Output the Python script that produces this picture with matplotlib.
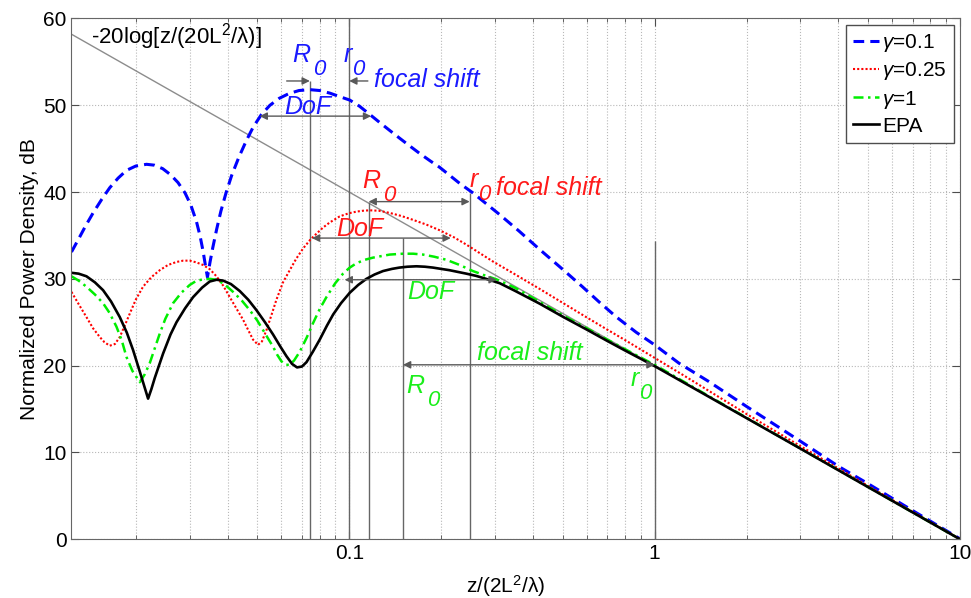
import matplotlib
matplotlib.use('Agg')
import matplotlib.pyplot as plt
from matplotlib.ticker import FixedLocator, LogLocator, NullFormatter, FuncFormatter

plt.rcParams['font.family'] = ['Liberation Sans', 'DejaVu Sans']
plt.rcParams['mathtext.fontset'] = 'custom'
plt.rcParams['mathtext.rm'] = 'Liberation Sans'
plt.rcParams['mathtext.it'] = 'Liberation Sans:italic'

# curves (x = z/(2L^2/lambda), y in dB)
blue_x = [0.01232, 0.0130, 0.0137, 0.0145, 0.0155, 0.01644, 0.0175, 0.01865, 0.0200, 0.02169,
          0.0230, 0.0245, 0.0260, 0.0275, 0.0290, 0.0303, 0.03161, 0.0325, 0.03322, 0.0338,
          0.03434, 0.0350, 0.03575, 0.0368, 0.0380, 0.0395, 0.0412, 0.0435, 0.0460, 0.0485,
          0.0515, 0.0550, 0.0590, 0.0635, 0.0685, 0.0743, 0.0800, 0.0864, 0.0930, 0.1004,
          0.108, 0.1167, 0.126, 0.1357, 0.1463, 0.158, 0.1701, 0.184, 0.1978, 0.212,
          0.230, 0.2542, 0.280, 0.311, 0.36, 0.42, 0.5, 0.58, 0.66, 0.75,
          0.87, 1.0, 1.2, 1.5, 2.0, 2.5, 3.0, 4.0, 5.0, 7.0, 10.0]
blue_y = [33.1, 34.6, 36.1, 37.6, 39.2, 40.5, 41.6, 42.5, 43.0, 43.2,
          43.1, 42.7, 42.0, 41.1, 39.9, 38.5, 36.6, 34.9, 33.2, 31.6,
          30.2, 31.9, 33.6, 35.7, 37.8, 39.9, 41.9, 44.0, 45.9, 47.5,
          48.9, 50.0, 50.8, 51.35, 51.7, 51.8, 51.7, 51.4, 51.0, 50.6,
          49.9, 48.95, 48.0, 47.1, 46.2, 45.3, 44.45, 43.6, 42.85, 42.0,
          41.0, 39.9, 38.7, 37.4, 35.5, 33.4, 31.1, 29.1, 27.3, 25.6,
          23.85, 22.4, 20.3, 18.2, 15.3, 13.1, 11.3, 8.4, 6.4, 3.3, 0.05]

red_x = [0.01232, 0.0130, 0.01379, 0.0145, 0.01525, 0.0158, 0.01644, 0.0171, 0.01773, 0.0184,
         0.01912, 0.0200, 0.02113, 0.0225, 0.02397, 0.0255, 0.02719, 0.0286, 0.03005, 0.0316,
         0.03322, 0.0350, 0.03675, 0.0387, 0.04063, 0.0427, 0.04492, 0.0467, 0.04843, 0.05029,
         0.0518, 0.05358, 0.0556, 0.05776, 0.0607, 0.06386, 0.0670, 0.07061, 0.0745, 0.0781,
         0.0820, 0.08635, 0.09309, 0.0995, 0.1056, 0.111, 0.1167, 0.125, 0.1357, 0.148,
         0.1618, 0.179, 0.1978, 0.220, 0.2418, 0.268, 0.2956, 0.35, 0.42, 0.5,
         0.6, 0.7, 0.8, 1.0, 1.25, 1.5, 2.0, 3.0, 5.0, 7.0, 10.0]
red_y = [28.5, 27.1, 25.6, 24.3, 23.3, 22.7, 22.3, 22.5, 23.3, 24.6,
         26.0, 27.6, 29.1, 30.2, 31.0, 31.6, 31.95, 32.1, 32.1, 31.9,
         31.6, 31.1, 30.3, 29.2, 27.9, 26.6, 25.3, 24.1, 23.0, 22.4,
         22.8, 24.1, 25.8, 27.6, 29.6, 31.0, 32.3, 33.5, 34.5, 35.2,
         35.9, 36.5, 37.2, 37.55, 37.75, 37.85, 37.9, 37.85, 37.6, 37.25,
         36.8, 36.25, 35.6, 34.8, 33.95, 32.95, 32.0, 30.5, 28.85, 27.24,
         25.55, 24.15, 22.95, 20.9, 18.84, 17.13, 14.43, 10.74, 6.15, 3.17, 0.02]

green_x = [0.01232, 0.0130, 0.01379, 0.0147, 0.01563, 0.0164, 0.01729, 0.0180, 0.01865, 0.0195,
           0.02062, 0.0214, 0.02223, 0.02397, 0.0250, 0.0265, 0.0282, 0.03005, 0.0315, 0.03322,
           0.0350, 0.03675, 0.0390, 0.04166, 0.0445, 0.04724, 0.0500, 0.05222, 0.0543, 0.0563,
           0.0580, 0.05999, 0.0620, 0.06386, 0.0660, 0.06886, 0.0725, 0.07613, 0.0800, 0.08421,
           0.0900, 0.09543, 0.1004, 0.1056, 0.1125, 0.1197, 0.1357, 0.15, 0.162, 0.1744,
           0.190, 0.208, 0.230, 0.2542, 0.278, 0.3033, 0.35, 0.42, 0.5, 0.6,
           0.7, 0.8, 0.9, 1.0, 1.5, 2.0, 3.0, 5.0, 10.0]
green_y = [30.3, 29.8, 29.1, 28.2, 27.2, 26.1, 24.5, 22.9, 21.0, 19.4,
           18.1, 19.0, 20.3, 23.7, 25.4, 27.2, 28.4, 29.3, 29.75, 29.95,
           30.0, 29.9, 29.4, 28.5, 27.5, 26.4, 25.2, 24.1, 23.1, 22.2,
           21.3, 20.5, 20.1, 20.1, 20.6, 21.6, 23.2, 24.9, 26.5, 27.9,
           29.5, 30.6, 31.3, 31.8, 32.2, 32.45, 32.8, 32.9, 32.9, 32.8,
           32.55, 32.2, 31.6, 30.9, 30.4, 29.95, 28.95, 27.35, 25.8, 24.3,
           23.0, 21.9, 20.95, 20.1, 16.52, 14.0, 10.47, 6.03, 0.0]

epa_x = [0.01232, 0.0130, 0.01379, 0.0147, 0.01563, 0.0166, 0.01773, 0.0187, 0.0196, 0.0205,
         0.02113, 0.02195, 0.0225, 0.02309, 0.02458, 0.0260, 0.02719, 0.0290, 0.03082, 0.0330,
         0.03494, 0.0368, 0.03863, 0.0410, 0.04381, 0.0467, 0.04968, 0.0530, 0.0563, 0.0595,
         0.06228, 0.0650, 0.06747, 0.0700, 0.07244, 0.0760, 0.08006, 0.0845, 0.0886, 0.0940,
         0.1004, 0.107, 0.1138, 0.121, 0.129, 0.138, 0.146, 0.155, 0.166, 0.177,
         0.188, 0.200, 0.213, 0.227, 0.242, 0.260, 0.281, 0.311, 0.35, 0.42,
         0.5, 0.6, 0.7, 0.8, 0.9, 1.0, 1.5, 2.0, 3.0, 5.0, 10.0]
epa_y = [30.7, 30.6, 30.3, 29.6, 28.7, 27.4, 25.6, 23.8, 21.8, 19.6,
         18.1, 16.2, 17.3, 18.6, 21.4, 23.6, 25.0, 26.6, 27.9, 29.0,
         29.7, 29.9, 29.8, 29.4, 28.6, 27.6, 26.4, 25.0, 23.6, 22.2,
         21.1, 20.2, 19.8, 19.9, 20.4, 21.6, 23.0, 24.6, 25.9, 27.2,
         28.4, 29.3, 30.0, 30.5, 30.9, 31.15, 31.3, 31.4, 31.45, 31.4,
         31.3, 31.15, 31.0, 30.8, 30.6, 30.35, 30.0, 29.5, 28.6, 27.15,
         25.65, 24.15, 22.85, 21.75, 20.8, 19.95, 16.45, 13.96, 10.45, 6.01, 0.0]

# reference line -20log[z/(20L^2/lambda)]
ref_x = [0.0123, 10.0]
ref_y = [58.2, 0.0]

# R0 / r0 marker lines: (x, top)
marker_x = [0.0743, 0.1, 0.1157, 0.248, 0.150, 1.0]
marker_top = [52.8, 60.0, 38.9, 39.9, 34.7, 34.4]

# arrows: (from x, to x, y, style)
arrows = [
    (0.0624, 0.0743, 52.8, '-|>'),
    (0.1151, 0.1, 52.8, '-|>'),
    (0.0509, 0.118, 48.75, '<|-|>'),
    (0.1157, 0.248, 38.9, '<|-|>'),
    (0.0755, 0.215, 34.7, '<|-|>'),
    (0.0966, 0.304, 29.9, '<|-|>'),
    (0.150, 1.0, 20.1, '<|-|>'),
]

# R0 / r0 labels: (left x, baseline y, letter, colour)
blue_c, red_c, green_c = '#1a1aff', '#ff1a1a', '#1aee1a'
sub_labels = [
    (0.0653, 55.0, 'R', blue_c), (0.0959, 55.0, 'r', blue_c),
    (0.1107, 40.5, 'R', red_c), (0.248, 40.6, 'r', red_c),
    (0.1542, 16.9, 'R', green_c), (0.834, 17.7, 'r', green_c),
]

# other annotation texts: (x, y, text, colour, ha, va)
notes = [
    (0.1203, 52.9, 'focal shift', blue_c, 'left', 'center'),
    (0.0731, 48.95, 'DoF', blue_c, 'center', 'baseline'),
    (0.303, 40.5, 'focal shift', red_c, 'left', 'center'),
    (0.1082, 34.9, 'DoF', red_c, 'center', 'baseline'),
    (0.185, 28.5, 'DoF', green_c, 'center', 'center'),
    (0.2614, 21.5, 'focal shift', green_c, 'left', 'center'),
]

fig = plt.figure(figsize=(9.71, 5.98), dpi=100)
ax = fig.add_axes([0.0734, 0.0982, 0.9153, 0.8709])

ax.plot(ref_x, ref_y, color='0.55', lw=1.0)
ax.vlines(marker_x, 0, marker_top, color='0.4', lw=1.0)
for x1, x2, y, st in arrows:
    ax.annotate('', xy=(x2, y), xytext=(x1, y),
                arrowprops=dict(arrowstyle=st, color='0.35', lw=1.0,
                                mutation_scale=11, shrinkA=0, shrinkB=0))

ax.plot(blue_x, blue_y, color='#0000ff', lw=2.2, ls=(0, (3.5, 2)), label=r'$\gamma$=0.1')
ax.plot(red_x, red_y, color='#ff0000', lw=1.5, ls=(0, (1, 1)), label=r'$\gamma$=0.25')
ax.plot(green_x, green_y, color='#00ee00', lw=1.8, ls=(0, (4, 1.8, 1, 1.8)), label=r'$\gamma$=1')
ax.plot(epa_x, epa_y, color='black', lw=1.9, label='EPA')

# letter + lowered "0"
letter_w = {'R': 14.5, 'r': 6.0}
for x, y, letter, c in sub_labels:
    ax.text(x, y, letter, color=c, fontsize=18, style='italic', ha='left', va='baseline')
    ax.annotate('0', xy=(x, y), xytext=(letter_w[letter], -9.5), textcoords='offset points',
                color=c, fontsize=16, style='italic', ha='left', va='baseline')

for x, y, s, c, ha, va in notes:
    ax.text(x, y, s, color=c, fontsize=18, style='italic', ha=ha, va=va)

ax.text(0.01422, 57.9, r'-20log[z/(20L$^2$/λ)]', color='black', fontsize=16, ha='left', va='center')

ax.set_xscale('log')
ax.set_xlim(0.0123, 10)
ax.set_ylim(0, 60)
ax.xaxis.set_major_locator(FixedLocator([0.1, 1, 10]))
ax.xaxis.set_major_formatter(FuncFormatter(lambda v, p: '%g' % v))
ax.xaxis.set_minor_locator(LogLocator(base=10, subs=[2, 3, 4, 5, 6, 7, 8, 9], numticks=20))
ax.xaxis.set_minor_formatter(NullFormatter())
ax.set_yticks(range(0, 61, 10))
ax.grid(True, which='both', linestyle=':', color='0.72', lw=0.8)
ax.tick_params(which='both', direction='in', top=True, right=True, labelsize=15, colors='0.3',
               labelcolor='black')
ax.tick_params(which='major', length=6)
ax.tick_params(which='minor', length=3)
for s in ax.spines.values():
    s.set_color('0.4')

ax.set_xlabel(r'z/(2L$^2$/λ)', fontsize=15)
ax.xaxis.set_label_coords(0.489, -0.065)
ax.set_ylabel('Normalized Power Density, dB', fontsize=15, labelpad=3)

ax.legend(loc='upper right', fontsize=15, fancybox=False, edgecolor='0.3', framealpha=1,
          borderaxespad=0.3, handlelength=1.25, handletextpad=0.15, labelspacing=0.3,
          borderpad=0.35)

fig.savefig('out.png', dpi=100)
